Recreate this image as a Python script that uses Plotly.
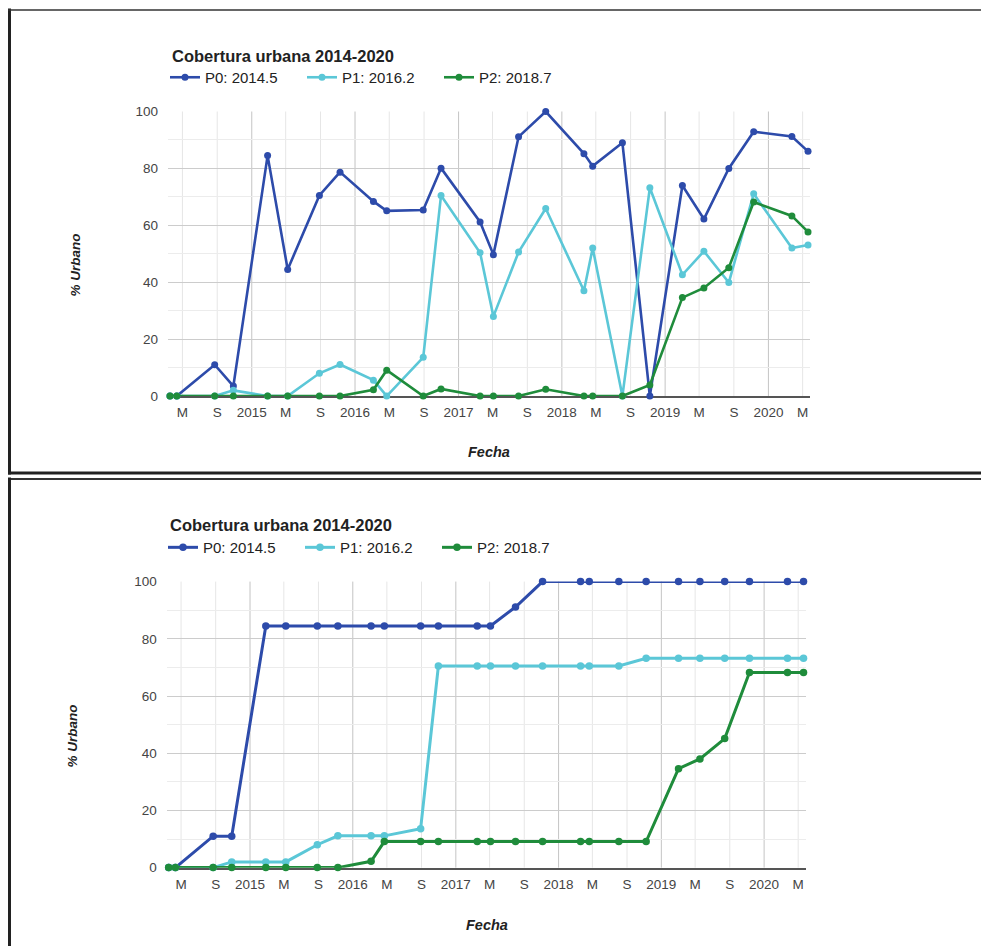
import plotly.graph_objects as go

# ---------------- data ----------------
dates = ["2014-03-18", "2014-04-11", "2014-08-23", "2014-10-28", "2015-02-26",
         "2015-05-08", "2015-08-28", "2015-11-09", "2016-03-06", "2016-04-22",
         "2016-08-29", "2016-10-31", "2017-03-18", "2017-05-04", "2017-08-01",
         "2017-11-05", "2018-03-20", "2018-04-20", "2018-08-03", "2018-11-08",
         "2019-03-03", "2019-05-18", "2019-08-14", "2019-11-10", "2020-03-24",
         "2020-05-20"]

series_names = ["P0: 2014.5", "P1: 2016.2", "P2: 2018.7"]

# top chart: cobertura por fecha
p0_top = [0, 0, 11, 3.5, 84.5, 44.5, 70.5, 78.7, 68.4, 65.1, 65.4, 80.1, 61.2,
          49.7, 91.1, 100, 85.2, 80.8, 89, 0, 74, 62.2, 80, 92.9, 91.2, 86]
p1_top = [0, 0, 0, 2, 0, 0, 8, 11.1, 5.6, 0, 13.6, 70.5, 50.4, 28, 50.6, 65.9,
          37, 52, 0, 73.2, 42.6, 50.9, 39.9, 71.1, 52, 53.1]
p2_top = [0, 0, 0, 0, 0, 0, 0, 0, 2.2, 9.1, 0, 2.5, 0, 0, 0, 2.4, 0, 0, 0, 3.9,
          34.6, 38, 45.1, 68.2, 63.3, 57.7]

# bottom chart: cobertura acumulada
p0_bot = [0, 0, 11, 11, 84.5, 84.5, 84.5, 84.5, 84.5, 84.5, 84.5, 84.5, 84.5,
          84.5, 91.1, 100, 100, 100, 100, 100, 100, 100, 100, 100, 100, 100]
p1_bot = [0, 0, 0, 2, 2, 2, 8, 11.1, 11.1, 11.1, 13.6, 70.5, 70.5, 70.5, 70.5,
          70.5, 70.5, 70.5, 70.5, 73.2, 73.2, 73.2, 73.2, 73.2, 73.2, 73.2]
p2_bot = [0, 0, 0, 0, 0, 0, 0, 0, 2.2, 9.1, 9.1, 9.1, 9.1, 9.1, 9.1, 9.1, 9.1,
          9.1, 9.1, 9.1, 34.6, 38, 45.1, 68.2, 68.2, 68.2]

tick_dates = ["2014-05-01", "2014-09-01", "2015-01-01", "2015-05-01", "2015-09-01",
              "2016-01-01", "2016-05-01", "2016-09-01", "2017-01-01", "2017-05-01",
              "2017-09-01", "2018-01-01", "2018-05-01", "2018-09-01", "2019-01-01",
              "2019-05-01", "2019-09-01", "2020-01-01", "2020-05-01"]
tick_text = ["M", "S", "2015", "M", "S", "2016", "M", "S", "2017", "M", "S",
             "2018", "M", "S", "2019", "M", "S", "2020", "M"]
y_ticks = [0, 20, 40, 60, 80, 100]

title_text = "Cobertura urbana 2014-2020"
x_title = "Fecha"
y_title = "% Urbano"

colors = ["#2D4BAA", "#5BC7D7", "#1F8C3B"]

# ---------------- layout helpers ----------------
W, H = 981, 946
FONT = "Arial, 'Liberation Sans', sans-serif"
V_PAD, V_SCALE = 7.5, 0.984   # vertical fit observed in the rendered picture


def px(x):
    return x / W


def py(y):
    return 1 - ((y - V_PAD) / V_SCALE) / H


fig = go.Figure()

top_vals = [p0_top, p1_top, p2_top]
bot_vals = [p0_bot, p1_bot, p2_bot]

for i in range(3):
    fig.add_trace(go.Scatter(
        x=dates, y=top_vals[i], name=series_names[i], mode="lines+markers",
        line=dict(color=colors[i], width=2.6), marker=dict(size=7, color=colors[i]),
        xaxis="x", yaxis="y", legend="legend", cliponaxis=False))
for i in range(3):
    fig.add_trace(go.Scatter(
        x=dates, y=bot_vals[i], name=series_names[i], mode="lines+markers",
        line=dict(color=colors[i], width=3), marker=dict(size=7.5, color=colors[i]),
        xaxis="x2", yaxis="y2", legend="legend2", cliponaxis=False))

xrange = ["2014-03-11", "2020-05-27"]

common_x = dict(
    type="date", range=xrange, tickmode="array", tickvals=tick_dates,
    ticktext=tick_text, showgrid=False,
    showline=True, linecolor="#555555", linewidth=2, ticks="",
    tickfont=dict(family=FONT, size=13.5, color="#444444"),
    ticklabelstandoff=3, layer="below traces", zeroline=False, fixedrange=True)
common_y = dict(
    range=[0, 100], tickmode="array", tickvals=y_ticks, showgrid=True,
    gridcolor="#cccccc", gridwidth=1, zeroline=False, showline=False, ticks="",
    minor=dict(dtick=10, showgrid=True, gridcolor="#ececec", gridwidth=1),
    tickfont=dict(family=FONT, size=13.5, color="#444444"),
    ticklabelstandoff=9, layer="below traces", fixedrange=True)

top_x = (168, 810)
top_y = (112, 396.5)
bot_x = (166.7, 805.5)
bot_y = (582, 868)

fig.update_layout(
    width=W, height=H, margin=dict(l=0, r=0, t=0, b=0),
    paper_bgcolor="white", plot_bgcolor="white",
    showlegend=True,
    xaxis=dict(common_x, domain=[px(top_x[0]), px(top_x[1])], anchor="y"),
    yaxis=dict(common_y, domain=[py(top_y[1]), py(top_y[0])], anchor="x"),
    xaxis2=dict(common_x, domain=[px(bot_x[0]), px(bot_x[1])], anchor="y2"),
    yaxis2=dict(common_y, domain=[py(bot_y[1]), py(bot_y[0])], anchor="x2"),
    legend=dict(orientation="h", x=px(165), y=py(78), xanchor="left",
                yanchor="middle", itemwidth=30, entrywidth=92,
                font=dict(family=FONT, size=15, color="#222222"),
                bgcolor="rgba(0,0,0,0)", traceorder="normal"),
    legend2=dict(orientation="h", x=px(163), y=py(548), xanchor="left",
                 yanchor="middle", itemwidth=30, entrywidth=92,
                 font=dict(family=FONT, size=15, color="#222222"),
                 bgcolor="rgba(0,0,0,0)", traceorder="normal"),
)

# vertical grid lines at the x ticks (years darker)
for xr, yr in (("x", "y domain"), ("x2", "y2 domain")):
    for d, t in zip(tick_dates, tick_text):
        is_year = t not in ("M", "S")
        fig.add_shape(type="line", xref=xr, yref=yr, x0=d, x1=d, y0=0, y1=1,
                      line=dict(color="#c4c4c4" if is_year else "#e6e6e6", width=1),
                      layer="below")

# titles
annotations = []
for (tx, ty), (fx, fy), (yx, yy) in (
        ((170, 56), (489, 452), (76, 266)),
        ((168, 525), (487, 925), (73, 737))):
    annotations.append(dict(text="<b>" + title_text + "</b>", x=px(tx), y=py(ty),
                            xref="paper", yref="paper", xanchor="left", yanchor="middle",
                            showarrow=False,
                            font=dict(family=FONT, size=16.5, color="#222222")))
    annotations.append(dict(text="<b><i>" + x_title + "</i></b>", x=px(fx), y=py(fy),
                            xref="paper", yref="paper", xanchor="center", yanchor="middle",
                            showarrow=False,
                            font=dict(family=FONT, size=14.5, color="#222222")))
    annotations.append(dict(text="<b><i>" + y_title + "</i></b>", x=px(yx), y=py(yy),
                            xref="paper", yref="paper", xanchor="center", yanchor="middle",
                            showarrow=False, textangle=-90,
                            font=dict(family=FONT, size=13.5, color="#222222")))
fig.update_layout(annotations=annotations)

# panel frames (screenshot borders)
frame = [
    (9.5, 9, 9.5, 475, 3, "#222222"),     # top panel left
    (8, 10.5, 981, 10.5, 1.5, "#333333"),  # top panel top
    (8, 473.5, 981, 473.5, 3, "#222222"),  # top panel bottom
    (8, 479.5, 981, 479.5, 2, "#333333"),  # bottom panel top
    (9.5, 478, 9.5, 960, 3, "#222222"),   # bottom panel left
]
for x0, y0, x1, y1, w, c in frame:
    fig.add_shape(type="line", xref="paper", yref="paper",
                  x0=px(x0), y0=py(y0), x1=px(x1), y1=py(y1),
                  line=dict(color=c, width=w), layer="above")

fig.write_html("out.html", config={"displayModeBar": False},
               post_script="document.body.style.margin='0';"
                           "document.body.style.overflow='hidden';")
